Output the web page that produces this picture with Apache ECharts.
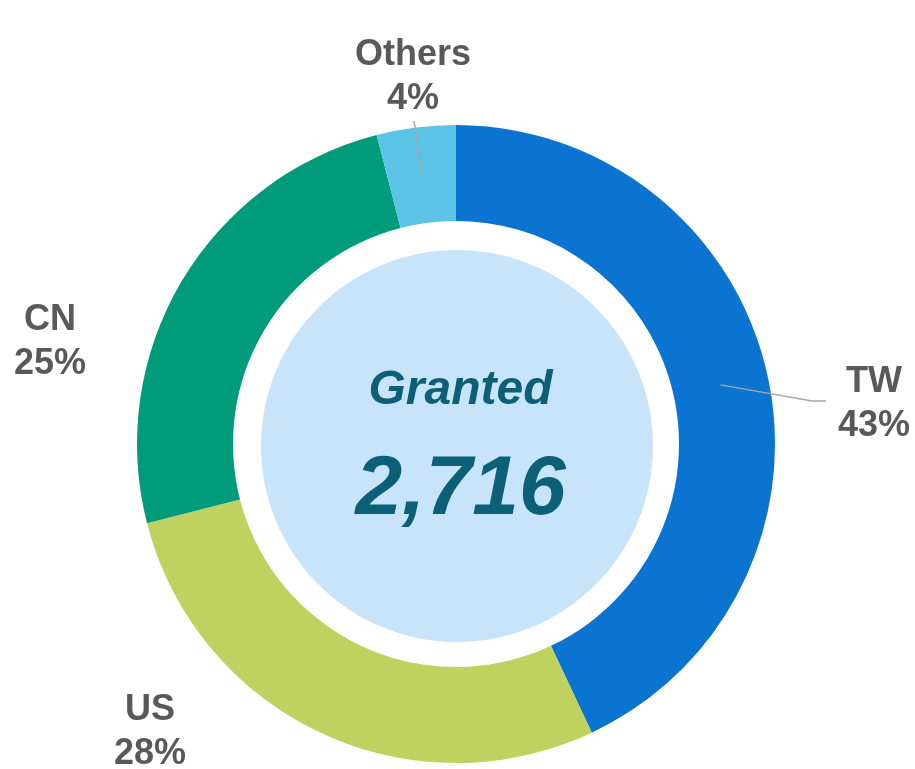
<!DOCTYPE html>
<html>
<head>
<meta charset="utf-8">
<script src="https://cdn.jsdelivr.net/npm/echarts@6/dist/echarts.min.js"></script>
<style>
html,body{margin:0;padding:0;background:#fff;}
#chart{width:915px;height:769px;}
</style>
</head>
<body>
<div id="chart"></div>
<script>
// ---- data ----
const categories = ['TW', 'US', 'CN', 'Others'];
const shares = [43, 28, 25, 4];
const centerTitle = 'Granted';
const totalGranted = 2716;

// ---- styles / layout (not data) ----
const sliceColors = ['#0A74D0', '#BFD15F', '#009B7A', '#5BC4E6'];
const labelCenters = [[874, 404], [150, 732], [50, 342], [413, 77]];
const guideEnds = [[[812, 401], [826, 401]], null, null, [[414, 121], [414, 121]]];
const CX = 456, CY = 444;

const chart = echarts.init(document.getElementById('chart'), null, {renderer: 'canvas'});

const donutData = categories.map((c, i) => ({name: c, value: shares[i], itemStyle: {color: sliceColors[i]}}));
const labelData = categories.map((c, i) => ({
  name: c, value: shares[i],
  labelLine: {show: guideEnds[i] !== null}
}));

chart.setOption({
  animation: false,
  series: [
    {
      type: 'pie',
      z: 1,
      center: [CX, CY],
      radius: [223, 319],
      startAngle: 90,
      clockwise: true,
      silent: true,
      label: {show: false},
      labelLine: {show: false},
      data: donutData
    },
    {
      type: 'pie',
      z: 5,
      center: [CX, CY],
      radius: [0, 271],
      startAngle: 90,
      clockwise: true,
      silent: true,
      avoidLabelOverlap: false,
      itemStyle: {color: 'rgba(0,0,0,0)'},
      label: {
        show: true,
        position: 'outside',
        formatter: p => p.name + '\n' + p.value + '%',
        fontFamily: 'Liberation Sans, Arial, sans-serif',
        fontWeight: 'bold',
        fontSize: 36,
        lineHeight: 44,
        color: '#595959',
        align: 'center'
      },
      labelLine: {show: true, length: 20, length2: 10, lineStyle: {color: '#A6A6A6', width: 1.5}},
      labelLayout: function (params) {
        const i = params.dataIndex;
        const out = {
          x: labelCenters[i][0],
          y: labelCenters[i][1],
          align: 'center',
          verticalAlign: 'middle'
        };
        if (guideEnds[i] && params.labelLinePoints) {
          out.labelLinePoints = [params.labelLinePoints[0], guideEnds[i][0], guideEnds[i][1]];
        }
        return out;
      },
      data: labelData
    },
    {
      type: 'pie',
      z: 3,
      center: [457, 446],
      radius: [0, 196],
      silent: true,
      itemStyle: {color: '#C7E4FB'},
      label: {
        show: true,
        position: 'center',
        padding: [10, 0, 0, 7],
        formatter: p => '{a|' + p.name + '}\n{b|' + p.value.toLocaleString('en-US') + '}',
        rich: {
          a: {fontFamily: 'Liberation Sans, Arial, sans-serif', fontStyle: 'italic', fontWeight: 'bold', fontSize: 48, lineHeight: 80, color: '#0B5F76', align: 'center'},
          b: {fontFamily: 'Liberation Sans, Arial, sans-serif', fontStyle: 'italic', fontWeight: 'bold', fontSize: 84, lineHeight: 120, color: '#0B5F76', align: 'center'}
        }
      },
      labelLine: {show: false},
      data: [{name: centerTitle, value: totalGranted}]
    }
  ]
});
</script>
</body>
</html>
